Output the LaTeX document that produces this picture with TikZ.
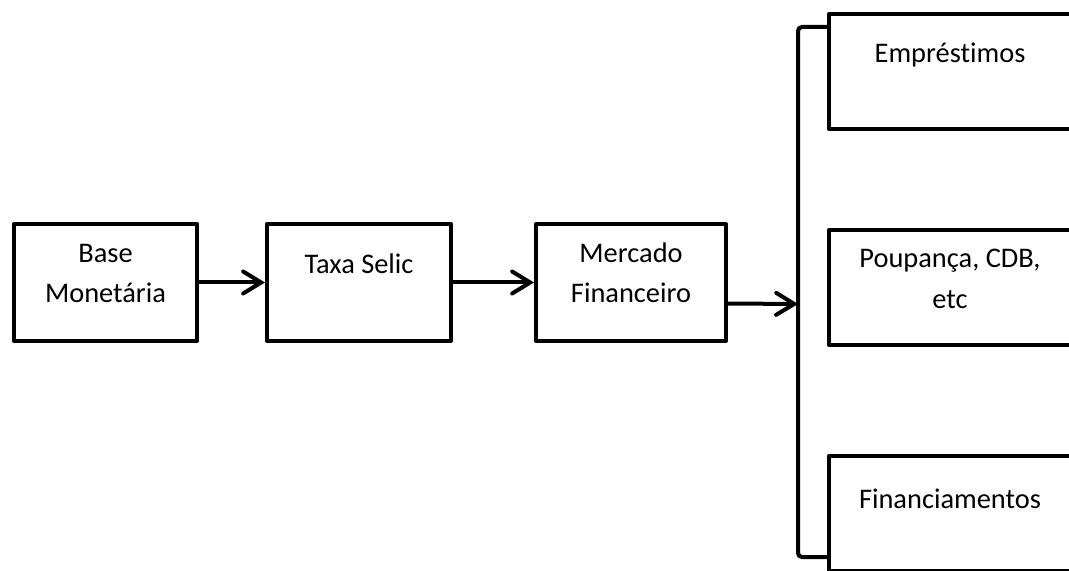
\documentclass[tikz,border=0pt]{standalone}
\usepackage{fontspec}
\setmainfont{Carlito}[Ligatures=CommonOff]
\usetikzlibrary{arrows.meta}

\begin{document}
\begin{tikzpicture}[x=0.5pt, y=-0.5pt,
  caixa/.style={draw, line width=2pt, line join=round, inner sep=0pt,
    align=center, font=\fontsize{14.2}{20.5}\selectfont},
  umalinha/.style={text height=10pt, text depth=18.5pt},
  duaslinhas/.style={text height=29.5pt, text depth=9pt},
  seta/.style={-{Straight Barb[length=9pt, width=11pt, line cap=round]},
    line width=2pt}]

 \useasboundingbox (0,0) rectangle (1069,571);

 \node[caixa, duaslinhas, minimum width=91.5pt, minimum height=58.5pt] (box_base) at (105.5,282.5)
     {Base\\Monetária};

 \node[caixa, umalinha, minimum width=92pt, minimum height=58.5pt] (box_selic) at (359,282.5)
     {Taxa Selic};

 \node[caixa, duaslinhas, minimum width=95pt, minimum height=58.5pt] (box_mercado) at (631,282.5)
     {Mercado\\Financeiro};

 \node[caixa, umalinha, minimum width=121pt, minimum height=57.5pt] (box_emprestimos) at (950,71.5)
     {Empréstimos};

 \node[caixa, duaslinhas, minimum width=121pt, minimum height=57.5pt] (box_poupanca) at (950,287.5)
     {Poupança, CDB,\\etc};

 \node[caixa, umalinha, text depth=15.5pt, minimum width=121pt, minimum height=57.5pt] (box_financ) at (950,513.5)
     {Financiamentos};

 \coordinate (chave_top) at (798,27);
 \coordinate (chave_mid) at (798,304);
 \coordinate (chave_bot) at (798,557);

 \draw [line width=2pt, rounded corners=2pt] (box_emprestimos.west |- chave_top) -- (chave_top)
     -- (chave_bot) -- (box_financ.west |- chave_bot);

 \draw [seta] (box_base) -- (box_selic);
 \draw [seta] (box_selic) -- (box_mercado);
 \draw [seta] ([yshift=-10.5pt]box_mercado.east) -- (chave_mid);

\end{tikzpicture}
\end{document}
